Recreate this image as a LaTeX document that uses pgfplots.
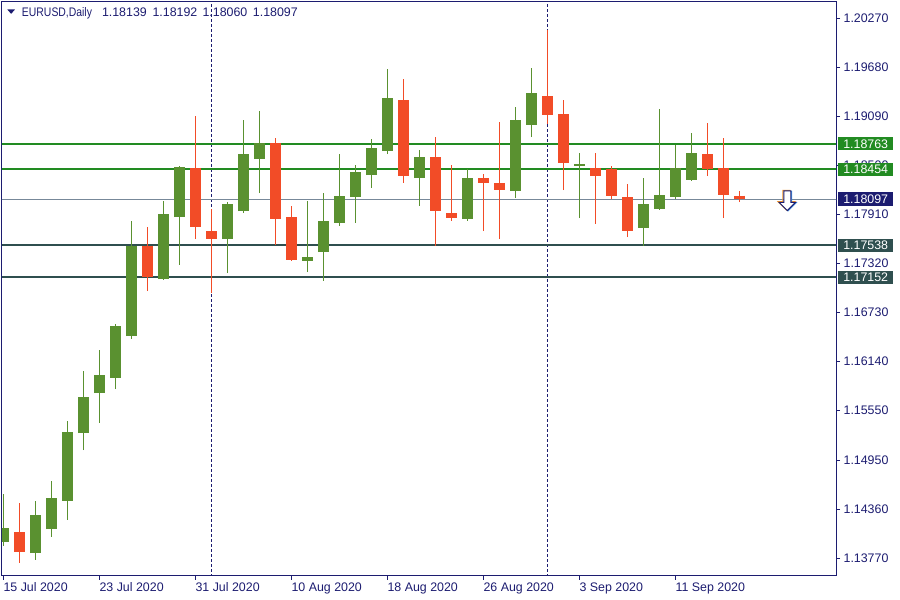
\documentclass[border=0pt]{standalone}
\usepackage{pgfplots}
\pgfplotsset{compat=1.18}
\usepackage{pgfplotstable}
\usepackage{graphicx}
\usepackage{fontspec}
\setmainfont{Liberation Sans}
\definecolor{navy}{RGB}{28,28,112}
\definecolor{bullc}{RGB}{90,145,48}
\definecolor{bearc}{RGB}{242,76,39}
\definecolor{lgreen}{RGB}{34,139,34}
\definecolor{dslate}{RGB}{47,79,79}
\definecolor{bidc}{RGB}{119,136,153}
\definecolor{arrorange}{RGB}{245,150,40}
\definecolor{arrblue}{RGB}{70,150,230}
\newcommand{\mtarrowpath}[2]{%
  \pgfpathmoveto{\pgfpoint{-2.6pt+#1}{6.75pt+#2}}%
  \pgfpathlineto{\pgfpoint{2.6pt+#1}{6.75pt+#2}}%
  \pgfpathlineto{\pgfpoint{2.6pt+#1}{-1.7pt+#2}}%
  \pgfpathlineto{\pgfpoint{6.2pt+#1}{-1.7pt+#2}}%
  \pgfpathlineto{\pgfpoint{0pt+#1}{-7.9pt+#2}}%
  \pgfpathlineto{\pgfpoint{-6.2pt+#1}{-1.7pt+#2}}%
  \pgfpathlineto{\pgfpoint{-2.6pt+#1}{-1.7pt+#2}}%
  \pgfpathclose}
\pgfdeclareplotmark{mtdown}{%
  \pgfsetlinewidth{0.75pt}%
  \pgfsetstrokecolor{arrorange}%
  \mtarrowpath{-0.75pt}{0.4pt}\pgfusepath{stroke}%
  \pgfsetstrokecolor{arrblue}%
  \mtarrowpath{0.6pt}{-0.3pt}\pgfusepath{stroke}%
  \pgfsetstrokecolor{navy}\pgfsetfillcolor{white}%
  \mtarrowpath{0pt}{0pt}\pgfusepath{fill,stroke}%
}
\pgfplotstableread{
x o h l c
0 1.13964 1.14542 1.13916 1.14133
2 1.13831 1.14458 1.13747 1.14289
3 1.14120 1.14699 1.14024 1.14494
4 1.14458 1.15422 1.14229 1.15289
5 1.15277 1.16024 1.15072 1.15711
6 1.15759 1.16277 1.15398 1.15976
7 1.15940 1.16591 1.15807 1.16567
8 1.16446 1.17832 1.16410 1.17531
10 1.17133 1.18073 1.17121 1.17916
11 1.17880 1.18495 1.17302 1.18483
14 1.17615 1.18061 1.17205 1.18037
15 1.17952 1.19049 1.17928 1.18639
16 1.18579 1.19157 1.18169 1.18772
19 1.17350 1.18073 1.17217 1.17398
20 1.17458 1.18169 1.17109 1.17832
21 1.17808 1.18639 1.17772 1.18133
22 1.18121 1.18507 1.17808 1.18422
23 1.18386 1.18820 1.18230 1.18712
24 1.18675 1.19664 1.18639 1.19314
26 1.18350 1.18687 1.18013 1.18603
29 1.17856 1.18459 1.17832 1.18350
32 1.18193 1.19206 1.18109 1.19049
33 1.18989 1.19676 1.18844 1.19374
36 1.18500 1.18651 1.17868 1.18522
40 1.17748 1.18350 1.17531 1.18037
41 1.17976 1.19182 1.17970 1.18145
42 1.18121 1.18748 1.18097 1.18471
43 1.18326 1.18892 1.18314 1.18651
}\bull
\pgfplotstableread{
x o h l c
1 1.14084 1.14434 1.13711 1.13843
9 1.17531 1.17760 1.16988 1.17157
12 1.18471 1.19097 1.17615 1.17760
13 1.17711 1.17976 1.16964 1.17615
17 1.18772 1.18832 1.17543 1.17856
18 1.17880 1.18013 1.17350 1.17362
25 1.19290 1.19543 1.18290 1.18374
27 1.18603 1.18844 1.17531 1.17952
28 1.17928 1.18507 1.17832 1.17868
30 1.18350 1.18398 1.17711 1.18290
31 1.18290 1.19025 1.17615 1.18205
34 1.19338 1.20133 1.19001 1.19109
35 1.19121 1.19290 1.18205 1.18531
37 1.18471 1.18651 1.17796 1.18374
38 1.18459 1.18495 1.18097 1.18133
39 1.18121 1.18278 1.17639 1.17711
44 1.18639 1.19013 1.18374 1.18459
45 1.18471 1.18832 1.17868 1.18145
46 1.18139 1.18192 1.18060 1.18097
}\bear
\newcommand{\mtfont}{\fontsize{9.3}{10.5}\selectfont}
\begin{document}
\begin{tikzpicture}
\useasboundingbox (-1.5pt,-18pt) rectangle (673.5pt,432pt);
\begin{axis}[
  at={(0,0)}, anchor=south west,
  width=625.5pt, height=430.5pt, scale only axis,
  xmin=-0.08125, xmax=52.044,
  ymin=1.13554, ymax=1.20471,
  axis line style={draw=navy, line width=0.75pt},
  tick style={draw=navy, line width=0.75pt},
  tick align=outside, major tick length=3pt,
  xtick pos=bottom, ytick pos=right, yticklabel pos=right,
  xtick={0,6,12,18,24,30,36,42},
  xticklabels={15 Jul 2020,23 Jul 2020,31 Jul 2020,10 Aug 2020,18 Aug 2020,26 Aug 2020,3 Sep 2020,11 Sep 2020},
  ytick={1.2027,1.1968,1.1909,1.185,1.1791,1.1732,1.1673,1.1614,1.1555,1.1495,1.1436,1.1377},
  yticklabels={1.20270,1.19680,1.19090,1.18500,1.17910,1.17320,1.16730,1.16140,1.15550,1.14950,1.14360,1.13770},
  tick label style={font=\mtfont, text=navy},
  xticklabel style={anchor=north west, inner sep=0pt, xshift=0pt, yshift=-2pt},
  yticklabel style={anchor=west, inner sep=0pt, xshift=2.5pt},
]
% period separators
\addplot[navy, line width=0.75pt, dash pattern=on 2.25pt off 1.5pt] coordinates {(13,1.13) (13,1.21)};
\addplot[navy, line width=0.75pt, dash pattern=on 2.25pt off 1.5pt] coordinates {(34,1.13) (34,1.21)};
% horizontal levels
\addplot[lgreen, line width=1.5pt] coordinates {(-1,1.18763) (53,1.18763)};
\addplot[lgreen, line width=1.5pt] coordinates {(-1,1.18454) (53,1.18454)};
\addplot[dslate, line width=1.5pt] coordinates {(-1,1.17538) (53,1.17538)};
\addplot[dslate, line width=1.5pt] coordinates {(-1,1.17152) (53,1.17152)};
\addplot[bidc, line width=0.75pt] coordinates {(-1,1.18097) (53,1.18097)};
% wicks
\addplot[draw=bullc, line width=0.75pt, quiver={u=0, v=\thisrow{h}-\thisrow{l}}] table[x=x, y=l] {\bull};
\addplot[draw=bearc, line width=0.75pt, quiver={u=0, v=\thisrow{h}-\thisrow{l}}] table[x=x, y=l] {\bear};
% bodies
\addplot[draw=bullc, line width=8.25pt, quiver={u=0, v=\thisrow{c}-\thisrow{o}}] table[x=x, y=o] {\bull};
\addplot[draw=bearc, line width=8.25pt, quiver={u=0, v=\thisrow{c}-\thisrow{o}}] table[x=x, y=o] {\bear};
% arrow object
\addplot[only marks, mark=mtdown] coordinates {(49,1.18085)};
\coordinate (L1) at (axis cs:52.044,1.18763);
\coordinate (L2) at (axis cs:52.044,1.18454);
\coordinate (L3) at (axis cs:52.044,1.18097);
\coordinate (L4) at (axis cs:52.044,1.17538);
\coordinate (L5) at (axis cs:52.044,1.17152);
\end{axis}
\tikzset{lbl/.style={anchor=west, inner sep=0pt, minimum width=41.5pt, minimum height=10pt, text=white, font=\mtfont}}
\node[lbl, fill=lgreen] at ([xshift=1.3pt]L1) {1.18763};
\node[lbl, fill=lgreen] at ([xshift=1.3pt]L2) {1.18454};
\node[lbl, fill=navy] at ([xshift=1.3pt]L3) {1.18097};
\node[lbl, fill=dslate] at ([xshift=1.3pt]L4) {1.17538};
\node[lbl, fill=dslate] at ([xshift=1.3pt]L5) {1.17152};
% title
\fill[navy] (3.975pt,424.9pt) -- (9.75pt,424.9pt) -- (6.86pt,421.6pt) -- cycle;
\begin{scope}[every node/.style={anchor=base west, inner sep=0pt, text=navy, font=\mtfont}]
\node at (14.8pt,419.5pt) {\scalebox{0.84}[1]{EURUSD,Daily}};
\node at (74.8pt,419.5pt) {1.18139};
\node at (112.7pt,419.5pt) {1.18192};
\node at (150.2pt,419.5pt) {1.18060};
\node at (188.0pt,419.5pt) {1.18097};
\end{scope}
\end{tikzpicture}
\end{document}
